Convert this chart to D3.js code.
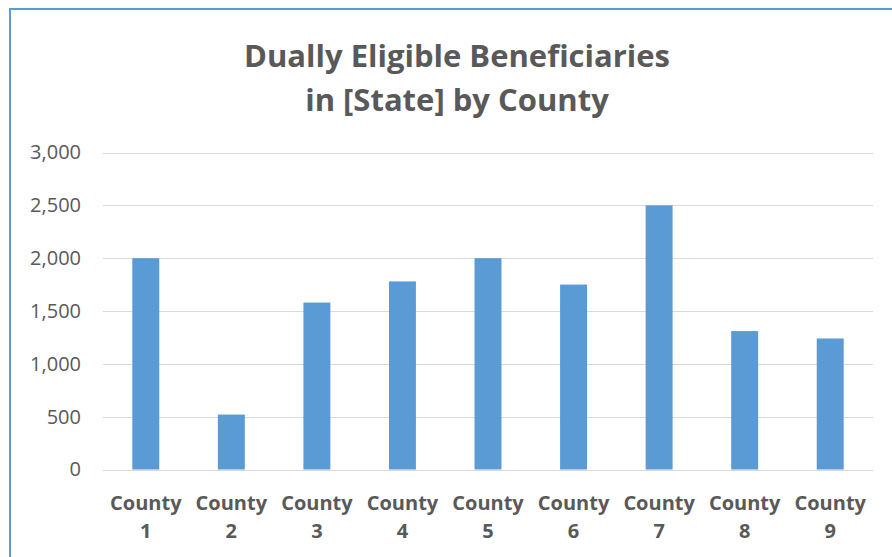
<!DOCTYPE html>
<html>
<head>
<script src="https://d3js.org/d3.v7.min.js"></script>
<style>
body { margin: 0; background: #fff; }
svg { display: block; font-family: "Open Sans", sans-serif; }
.axis path, .axis line { display: none; }
.grid line { stroke: #d9d9d9; stroke-width: 1px; shape-rendering: crispEdges; }
.grid path { display: none; }
</style>
</head>
<body>
<svg width="892" height="557"></svg>
<script>
const counties = ["County 1", "County 2", "County 3", "County 4", "County 5", "County 6", "County 7", "County 8", "County 9"];
const beneficiaries = [2000, 520, 1580, 1780, 2000, 1750, 2500, 1310, 1240];
const yTicks = [0, 500, 1000, 1500, 2000, 2500, 3000];
const titleLines = ["Dually Eligible Beneficiaries", "in [State] by County"];

const data = counties.map((c, i) => ({ county: c, value: beneficiaries[i] }));

const svg = d3.select("svg");
const margin = { top: 152.5, right: 19, bottom: 87.5, left: 103 };
const width = +svg.attr("width") - margin.left - margin.right;
const height = +svg.attr("height") - margin.top - margin.bottom;

// chart border
svg.append("rect")
  .attr("x", 10).attr("y", 9)
  .attr("width", 900).attr("height", 600)
  .attr("fill", "none")
  .attr("stroke", "#5b9bd5")
  .attr("stroke-width", 2);

// title
svg.append("text")
  .attr("text-anchor", "middle")
  .attr("font-size", 31)
  .attr("font-weight", "bold")
  .attr("fill", "#595959")
  .selectAll("tspan")
  .data(titleLines)
  .enter()
  .append("tspan")
  .attr("x", 457)
  .attr("y", (d, i) => 67 + i * 44)
  .text(d => d);

const g = svg.append("g")
  .attr("transform", `translate(${margin.left},${margin.top})`);

const x = d3.scaleBand()
  .domain(counties)
  .range([0, width])
  .paddingInner(0.685)
  .paddingOuter(0.3425);

const y = d3.scaleLinear()
  .domain([0, 3000])
  .range([height, 0]);

// gridlines
g.append("g")
  .attr("class", "grid")
  .call(d3.axisLeft(y).tickValues(yTicks).tickSize(-width).tickFormat(""));

// y axis labels
g.append("g")
  .attr("class", "axis")
  .call(d3.axisLeft(y).tickValues(yTicks).tickFormat(d3.format(",")).tickSize(0).tickPadding(22))
  .call(s => s.selectAll("text")
    .attr("font-size", 20)
    .attr("font-family", "Open Sans, sans-serif")
    .attr("fill", "#595959"));

// bars
g.selectAll(".bar")
  .data(data)
  .enter()
  .append("rect")
  .attr("class", "bar")
  .attr("x", d => x(d.county))
  .attr("y", d => y(d.value))
  .attr("width", x.bandwidth())
  .attr("height", d => height - y(d.value))
  .attr("fill", "#5b9bd5");

// x axis labels (two lines)
const xAxis = g.append("g")
  .attr("class", "axis")
  .attr("transform", `translate(0,${height})`)
  .call(d3.axisBottom(x).tickSize(0).tickFormat(""));

xAxis.selectAll(".tick")
  .append("text")
  .attr("text-anchor", "middle")
  .attr("font-size", 20)
  .attr("font-weight", "bold")
  .attr("font-family", "Open Sans, sans-serif")
  .attr("fill", "#595959")
  .selectAll("tspan")
  .data(d => d.split(" "))
  .enter()
  .append("tspan")
  .attr("x", 0)
  .attr("y", (d, i) => 40 + i * 28)
  .text(d => d);
</script>
</body>
</html>
